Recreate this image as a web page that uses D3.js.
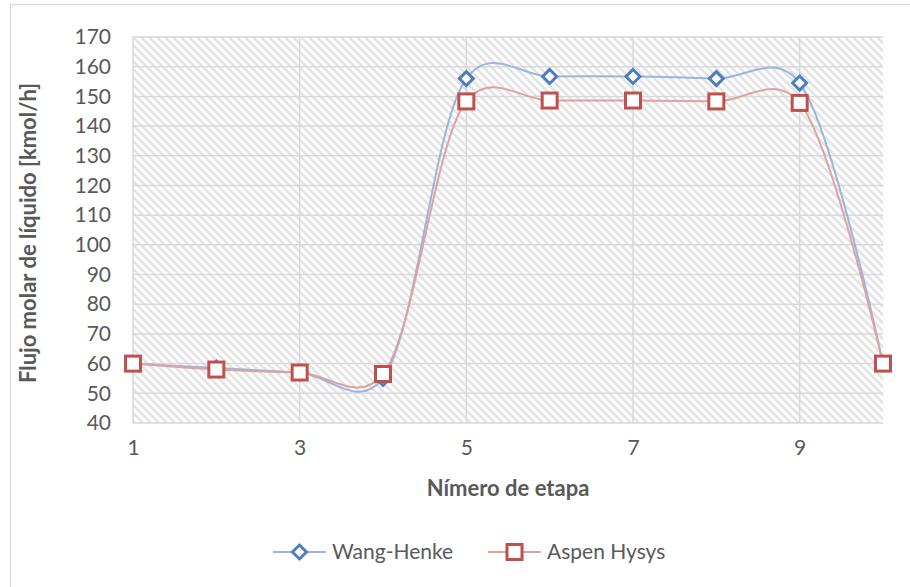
<!DOCTYPE html>
<html>
<head>
<meta charset="utf-8">
<script src="https://cdn.jsdelivr.net/npm/d3@7"></script>
<style>
  html, body { margin: 0; padding: 0; background: #fff; }
  svg { display: block; font-family: Lato, "Open Sans", sans-serif; }
</style>
</head>
<body>
<svg id="chart" width="910" height="587"></svg>
<script>
const stages     = [1, 2, 3, 4, 5, 6, 7, 8, 9, 10];
const wangHenke  = [60, 58.5, 57, 55, 156, 156.7, 156.7, 156, 154.5, 60];
const aspenHysys = [60, 58, 57, 56.5, 148.3, 148.6, 148.6, 148.3, 147.8, 60];
const xTicks     = [1, 3, 5, 7, 9];
const yTicks     = d3.range(40, 171, 10);

const svg = d3.select("#chart");
const m   = { left: 133, right: 883, top: 37, bottom: 423 };

const x = d3.scaleLinear().domain([1, 10]).range([m.left, m.right]);
const y = d3.scaleLinear().domain([40, 170]).range([m.bottom, m.top]);

// outer chart border
svg.append("rect")
  .attr("x", 10.5).attr("y", 4.5)
  .attr("width", 940).attr("height", 640)
  .attr("fill", "#fff")
  .attr("stroke", "#d9d9d9")
  .attr("stroke-width", 1.2);

// hatch fill of the plot area
const pat = svg.append("defs").append("pattern")
  .attr("id", "hatch")
  .attr("patternUnits", "userSpaceOnUse")
  .attr("width", 8).attr("height", 8);
pat.append("rect").attr("width", 8).attr("height", 8).attr("fill", "#fff");
pat.append("path")
  .attr("d", "M-2,-2L10,10M-2,6L2,10M6,-2L10,2")
  .attr("stroke", "#e3e3e3")
  .attr("stroke-width", 2.4);

svg.append("rect")
  .attr("x", m.left).attr("y", m.top)
  .attr("width", m.right - m.left).attr("height", m.bottom - m.top)
  .attr("fill", "url(#hatch)");

// gridlines
svg.append("g")
  .selectAll("line")
  .data(yTicks)
  .join("line")
  .attr("x1", m.left).attr("x2", m.right)
  .attr("y1", d => y(d)).attr("y2", d => y(d))
  .attr("stroke", "#d9d9d9")
  .attr("stroke-width", 1.5);

svg.append("g")
  .selectAll("line")
  .data(xTicks)
  .join("line")
  .attr("x1", d => x(d)).attr("x2", d => x(d))
  .attr("y1", m.top).attr("y2", m.bottom)
  .attr("stroke", "#d9d9d9")
  .attr("stroke-width", 1.5);

// axes (labels only)
const yAxis = svg.append("g")
  .attr("transform", `translate(${m.left},0)`)
  .call(d3.axisLeft(y).tickValues(yTicks).tickSize(0).tickPadding(22));
const xAxis = svg.append("g")
  .attr("transform", `translate(0,${m.bottom})`)
  .call(d3.axisBottom(x).tickValues(xTicks).tickSize(0).tickPadding(17));
[yAxis, xAxis].forEach(a => {
  a.select(".domain").remove();
  a.selectAll("text")
    .attr("font-family", "Lato, 'Open Sans', sans-serif")
    .attr("font-size", 21)
    .attr("fill", "#595959");
});

// axis titles
svg.append("text")
  .attr("x", 508).attr("y", 496)
  .attr("text-anchor", "middle")
  .attr("font-size", 22)
  .attr("font-weight", "bold")
  .attr("fill", "#595959")
  .text("Nímero de etapa");

svg.append("text")
  .attr("transform", `translate(36,${(m.top + m.bottom) / 2 + 3}) rotate(-90)`)
  .attr("text-anchor", "middle")
  .attr("font-size", 22)
  .attr("font-weight", "bold")
  .attr("fill", "#595959")
  .text("Flujo molar de líquido [kmol/h]");

// series
const series = [
  { name: "Wang-Henke",  values: wangHenke,  line: "#9bb5dc", mark: "#4a7ebf", shape: "diamond" },
  { name: "Aspen Hysys", values: aspenHysys, line: "#dea3a1", mark: "#c0504d", shape: "square" }
];

const line = d3.line()
  .x((d, i) => x(stages[i]))
  .y(d => y(d))
  .curve(d3.curveCatmullRom.alpha(0.2));

function drawMarker(g, shape, color, cx, cy) {
  if (shape === "diamond") {
    const r = 7;
    g.append("path")
      .attr("d", `M${cx},${cy - r}L${cx + r},${cy}L${cx},${cy + r}L${cx - r},${cy}Z`)
      .attr("fill", "#fff")
      .attr("stroke", color)
      .attr("stroke-width", 3);
  } else {
    const s = 15;
    g.append("rect")
      .attr("x", cx - s / 2).attr("y", cy - s / 2)
      .attr("width", s).attr("height", s)
      .attr("fill", "#fff")
      .attr("stroke", color)
      .attr("stroke-width", 3);
  }
}

series.forEach(s => {
  svg.append("path")
    .attr("d", line(s.values))
    .attr("fill", "none")
    .attr("stroke", s.line)
    .attr("stroke-width", 2);
});
series.forEach(s => {
  const g = svg.append("g");
  s.values.forEach((v, i) => drawMarker(g, s.shape, s.mark, x(stages[i]), y(v)));
});

// legend
const legendX = [273, 488];
series.forEach((s, i) => {
  const g = svg.append("g").attr("transform", `translate(${legendX[i]},552)`);
  g.append("line")
    .attr("x1", 0).attr("x2", 53)
    .attr("stroke", s.line).attr("stroke-width", 2);
  drawMarker(g, s.shape, s.mark, 26.5, 0);
  g.append("text")
    .attr("x", 59).attr("y", 0)
    .attr("dy", "0.35em")
    .attr("font-size", 21)
    .attr("fill", "#595959")
    .text(s.name);
});
</script>
</body>
</html>
